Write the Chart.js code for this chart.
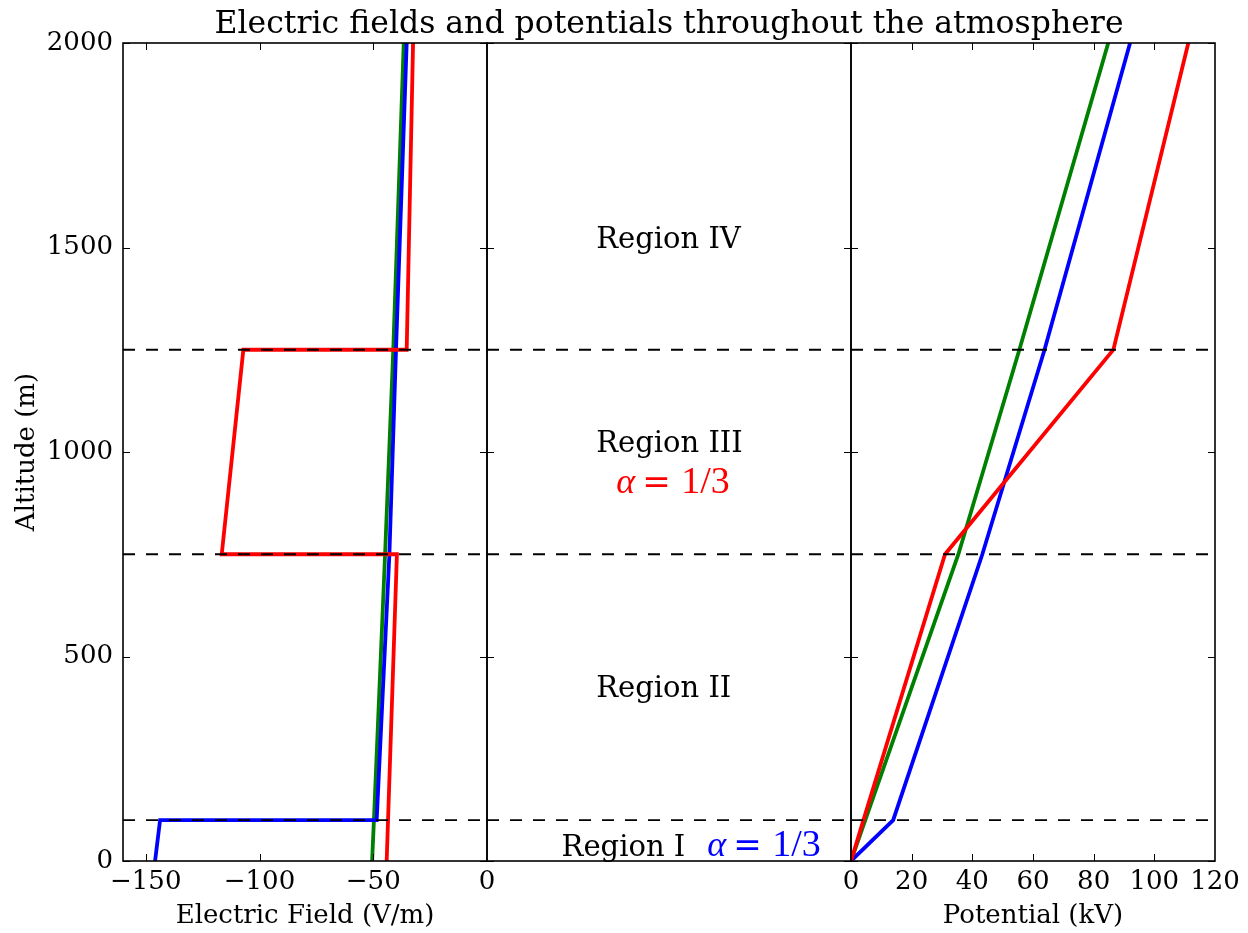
<!DOCTYPE html>
<html><head><meta charset="utf-8">
<script src="https://cdn.jsdelivr.net/npm/chart.js@4/dist/chart.umd.min.js"></script>
<style>
html,body{margin:0;padding:0;background:#fff;}
#wrap{position:relative;width:1248px;height:933px;background:#fff;}
canvas{position:absolute;left:0;top:0;}
</style></head><body>
<div id="wrap">
<canvas id="cField" width="1248" height="933"></canvas>
<canvas id="cMid" width="1248" height="933"></canvas>
<canvas id="cPot" width="1248" height="933"></canvas>
</div>
<script>
// ---------------- data ----------------
const boundaryAltitudes = [100, 750, 1250];
const altitudeTicks = [0, 500, 1000, 1500, 2000];
const fieldTicks = [-150, -100, -50, 0];
const potentialTicks = [0, 20, 40, 60, 80, 100, 120];

const greenFieldAlt = [0, 100, 750, 1250, 2000];
const greenField    = [-50.5, -49.7, -44.8, -41.2, -36.6];
const blueFieldAlt  = [0, 100, 100, 750, 1250, 2000];
const blueField     = [-145.9, -143.7, -48.5, -42.9, -40.0, -35.3];
const redFieldAlt   = [0, 750, 750, 1250, 1250, 2000];
const redField      = [-44.1, -39.6, -116.6, -107.1, -35.3, -32.5];

const potentialAlt   = [0, 100, 750, 1250, 2000];
const greenPotential = [0, 4.7, 35.4, 55.5, 84.8];
const bluePotential  = [0, 13.9, 43.3, 63.8, 92.0];
const redPotential   = [0, 4.1, 31.0, 86.5, 111.2];

const regionLabels = ['Region IV', 'Region III', 'Region II', 'Region I'];
const regionLabelAlt = [1500, 1000, 400, 12];
const regionLabelX = [0.30, 0.30, 0.30, 0.205];
const alphaLabels = ['1/3', '1/3'];
const alphaAlt = [900, 12];
const alphaX = [0.355, 0.605];
const alphaColors = ['#ff0000', '#0000ff'];

const TITLE = 'Electric fields and potentials throughout the atmosphere';
// ---------------------------------------

const SERIF = '"DejaVu Serif", "Liberation Serif", serif';
const FONT_TICK = {family: SERIF, size: 26};
const FONT_LABEL = {family: SERIF, size: 26};
const zip = (xs, ys) => xs.map((x, i) => ({x: x, y: ys[i]}));

function lineDs(xs, alts, color, order) {
  return {data: zip(xs, alts), borderColor: color, borderWidth: 3.8, pointRadius: 0,
          showLine: true, fill: false, tension: 0, order: order, borderJoinStyle: 'miter'};
}
function dashDs(xmin, xmax) {
  return boundaryAltitudes.map(a => ({data: [{x: xmin, y: a}, {x: xmax, y: a}],
    borderColor: '#000', borderWidth: 1.8, borderDash: [12, 11], pointRadius: 0,
    showLine: true, fill: false, order: 0}));
}

const framePlugin = {
  id: 'frame',
  afterDatasetsDraw(chart, args, opts) {
    const {ctx, chartArea: a, scales} = chart;
    ctx.save();
    ctx.strokeStyle = '#000';
    ctx.lineWidth = 1;
    const L = 7;
    const seg = (x1, y1, x2, y2) => { ctx.beginPath(); ctx.moveTo(x1, y1); ctx.lineTo(x2, y2); ctx.stroke(); };
    (opts.xTicks || []).forEach(v => {
      const px = Math.round(scales.x.getPixelForValue(v)) + 0.5;
      seg(px, a.bottom, px, a.bottom - L);
      seg(px, a.top, px, a.top + L);
    });
    (opts.yTicks || []).forEach(v => {
      const py = Math.round(scales.y.getPixelForValue(v)) + 0.5;
      seg(a.left, py, a.left + L, py);
      seg(a.right, py, a.right - L, py);
    });
    ctx.lineWidth = 1.6;
    ctx.strokeRect(a.left, a.top, a.right - a.left, a.bottom - a.top);
    ctx.restore();
  }
};

const textPlugin = {
  id: 'texts',
  afterDraw(chart) {
    const {ctx, chartArea: a, scales} = chart;
    ctx.save();
    ctx.fillStyle = '#000';
    ctx.textBaseline = 'alphabetic';
    ctx.textAlign = 'center';
    ctx.font = '31.5px ' + SERIF;
    ctx.fillText(TITLE, (a.left + a.right) / 2, a.top - 10);
    ctx.font = '29px ' + SERIF;
    ctx.textAlign = 'left';
    regionLabels.forEach((t, i) => {
      ctx.fillText(t, scales.x.getPixelForValue(regionLabelX[i]), scales.y.getPixelForValue(regionLabelAlt[i]));
    });
    alphaLabels.forEach((t, i) => {
      const x = scales.x.getPixelForValue(alphaX[i]);
      const y = scales.y.getPixelForValue(alphaAlt[i]);
      ctx.fillStyle = alphaColors[i];
      ctx.font = 'italic 36px "Liberation Serif", serif';
      ctx.fillText('\u03b1', x, y);
      ctx.font = '34px "DejaVu Serif", serif';
      ctx.fillText('=', x + 26, y);
      ctx.font = '38px "Liberation Serif", serif';
      ctx.fillText(t, x + 65, y);
    });
    ctx.restore();
  }
};

const common = {
  responsive: false, animation: false, devicePixelRatio: 1,
  events: []
};

function yScale(show) {
  const s = {type: 'linear', min: 0, max: 2000, position: 'left', display: show,
    afterBuildTicks: sc => { sc.ticks = altitudeTicks.map(v => ({value: v})); },
    grid: {display: false, drawTicks: false}, border: {display: false}};
  if (show) {
    s.ticks = {font: FONT_TICK, color: '#000', padding: 10, callback: v => String(v)};
    s.title = {display: true, text: 'Altitude (m)', font: FONT_LABEL, color: '#000', padding: {top: 12, bottom: 0}};
    s.afterFit = sc => { sc.width = 123; };
  }
  return s;
}
function xScale(min, max, ticks, title) {
  return {type: 'linear', min: min, max: max, position: 'bottom',
    afterBuildTicks: sc => { sc.ticks = ticks.map(v => ({value: v})); },
    ticks: {font: FONT_TICK, color: '#000', padding: 6, maxRotation: 0, autoSkip: false,
            callback: v => String(v).replace('-', '\u2212')},
    grid: {display: false, drawTicks: false}, border: {display: false},
    title: {display: true, text: title, font: FONT_LABEL, color: '#000', padding: {top: 0, bottom: 1}},
    afterFit: sc => { sc.height = 72; }};
}

// Left: electric field
new Chart(document.getElementById('cField'), {
  type: 'scatter',
  data: {datasets: [
    ...dashDs(-160, 0),
    lineDs(redField, redFieldAlt, '#ff0000', 1),
    lineDs(blueField, blueFieldAlt, '#0000ff', 2),
    lineDs(greenField, greenFieldAlt, '#008000', 3)
  ]},
  options: Object.assign({}, common, {
    layout: {padding: {left: 0, right: 761, top: 43, bottom: 0}},
    scales: {x: xScale(-160, 0, fieldTicks, 'Electric Field (V/m)'), y: yScale(true)},
    plugins: {legend: {display: false}, tooltip: {enabled: false},
              frame: {xTicks: [-150, -100, -50], yTicks: altitudeTicks}}
  }),
  plugins: [framePlugin]
});

// Middle: labels
new Chart(document.getElementById('cMid'), {
  type: 'scatter',
  data: {datasets: [...dashDs(0, 1)]},
  options: Object.assign({}, common, {
    layout: {padding: {left: 487, right: 397, top: 43, bottom: 72}},
    scales: {x: {type: 'linear', min: 0, max: 1, display: false}, y: yScale(false)},
    plugins: {legend: {display: false}, tooltip: {enabled: false},
              frame: {xTicks: [], yTicks: altitudeTicks}}
  }),
  plugins: [framePlugin, textPlugin]
});

// Right: potential
new Chart(document.getElementById('cPot'), {
  type: 'scatter',
  data: {datasets: [
    ...dashDs(0, 120),
    lineDs(redPotential, potentialAlt, '#ff0000', 1),
    lineDs(bluePotential, potentialAlt, '#0000ff', 2),
    lineDs(greenPotential, potentialAlt, '#008000', 3)
  ]},
  options: Object.assign({}, common, {
    layout: {padding: {left: 851, right: 33, top: 43, bottom: 0}},
    scales: {x: xScale(0, 120, potentialTicks, 'Potential (kV)'), y: yScale(false)},
    plugins: {legend: {display: false}, tooltip: {enabled: false},
              frame: {xTicks: [20, 40, 60, 80, 100], yTicks: altitudeTicks}}
  }),
  plugins: [framePlugin]
});
</script>
</body></html>
